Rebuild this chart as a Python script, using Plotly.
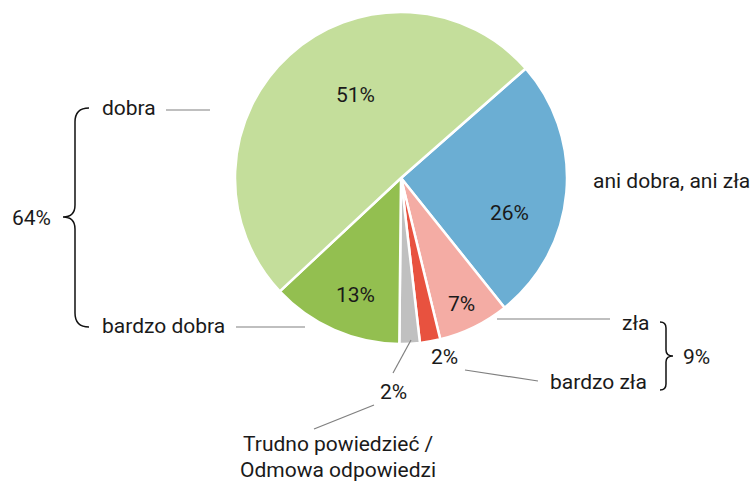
import plotly.graph_objects as go

W, H = 753, 481

categories = ["ani dobra, ani zła", "zła", "bardzo zła",
              "Trudno powiedzieć / Odmowa odpowiedzi", "bardzo dobra", "dobra"]
values = [26, 7, 2, 2, 13, 51]
pct_labels = ["26%", "7%", "2%", "2%", "13%", "51%"]
colors = ["#6BAED3", "#F4ACA4", "#E8523F", "#C0C0C0", "#93BF50", "#C4DE9B"]

FONT = "Roboto"
FS = 21
TXT = "#1a1a1a"
LINE = "#808080"


def px(x):
    return x / W


def py(y):
    return 1 - y / H


fig = go.Figure()
fig.add_trace(go.Pie(
    labels=categories,
    values=values,
    textinfo="none",
    sort=False,
    direction="clockwise",
    rotation=48.7,
    marker=dict(colors=colors, line=dict(color="white", width=2.5)),
    domain=dict(x=[px(235), px(567)], y=[py(344), py(12)]),
    showlegend=False,
    hoverinfo="label+percent",
))

shapes = []


def line(x0, y0, x1, y1):
    shapes.append(dict(type="line", xref="paper", yref="paper",
                       x0=px(x0), y0=py(y0), x1=px(x1), y1=py(y1),
                       line=dict(color=LINE, width=1.2)))


def path(pts_cmds):
    s = ""
    for c in pts_cmds:
        if isinstance(c, str):
            s += c + " "
        else:
            s += f"{px(c[0]):.5f},{py(c[1]):.5f} "
    shapes.append(dict(type="path", xref="paper", yref="paper", path=s.strip(),
                       line=dict(color="#111111", width=1.5)))


# leader lines
line(166, 110, 210, 110)          # dobra
line(236, 327, 305, 327)          # bardzo dobra
line(497, 319, 610, 319)          # zła
line(465, 370, 538, 381)          # bardzo zła
line(411, 340, 393, 373)          # trudno (to 2%)
line(374, 405, 314, 429)          # trudno (to label)

# left brace
path(["M", (89, 108), "Q", (75, 108), (75, 122), "L", (75, 205),
      "Q", (75, 217), (63, 217), "Q", (75, 217), (75, 229),
      "L", (75, 313), "Q", (75, 327), (89, 327)])
# right brace
path(["M", (660, 322), "Q", (666, 322), (666, 328), "L", (666, 350),
      "Q", (666, 356), (673, 356), "Q", (666, 356), (666, 362),
      "L", (666, 384), "Q", (666, 390), (660, 390)])

annotations = []


def ann(text, x, y, xanchor="center"):
    annotations.append(dict(text=text, x=px(x), y=py(y), xref="paper", yref="paper",
                            xanchor=xanchor, yanchor="middle", showarrow=False,
                            font=dict(family=FONT, size=FS, color=TXT)))


# slice value labels
ann(pct_labels[5], 355, 95)
ann(pct_labels[0], 510, 213)
ann(pct_labels[4], 355, 295)
ann(pct_labels[1], 461, 304)
ann(pct_labels[2], 444, 357)
ann(pct_labels[3], 393, 392)

# category labels
ann("dobra", 100, 108, "left")
ann("bardzo dobra", 100, 326, "left")
ann("64%", 31, 218)
ann("ani dobra, ani zła", 591, 181, "left")
ann("zła", 620, 323, "left")
ann("bardzo zła", 548, 382, "left")
ann("9%", 681, 357, "left")
ann("Trudno powiedzieć /", 338, 444)
ann("Odmowa odpowiedzi", 338, 470)

fig.update_layout(
    width=W, height=H,
    margin=dict(l=0, r=0, t=0, b=0),
    paper_bgcolor="white",
    plot_bgcolor="white",
    shapes=shapes,
    annotations=annotations,
    font=dict(family=FONT),
)

fig.write_html("out.html", config={"displayModeBar": False},
               post_script="document.body.style.margin='0';")
